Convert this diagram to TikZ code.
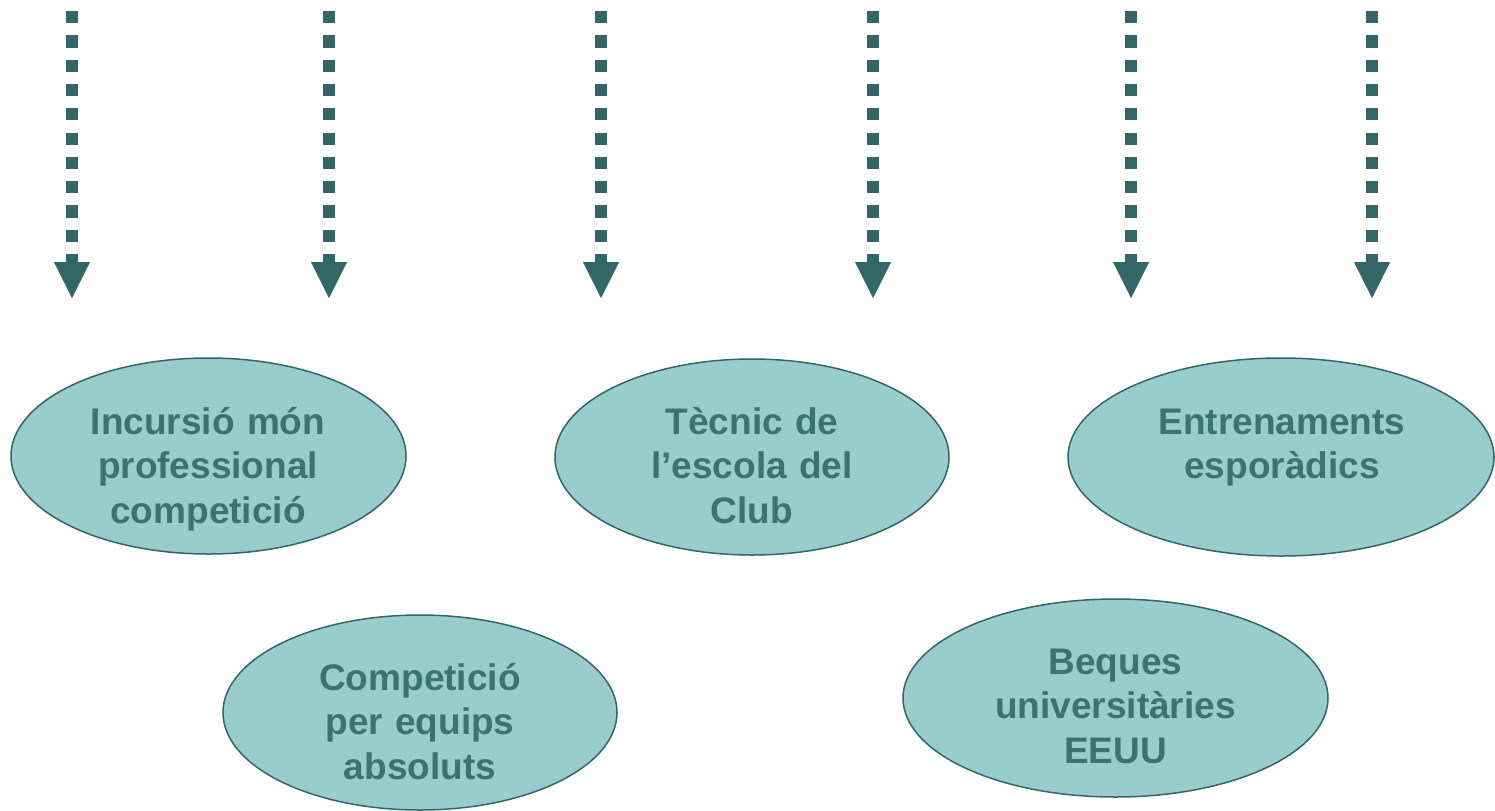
\documentclass[tikz,border=0pt]{standalone}
\usepackage{fontspec}
\setmainfont{Liberation Sans}
\usetikzlibrary{arrows.meta,shapes.geometric}
\definecolor{fillc}{HTML}{99CCCC}
\definecolor{darkc}{HTML}{336666}
\definecolor{txtc}{HTML}{3A7371}
\begin{document}
\begin{tikzpicture}[x=0.5pt,y=-0.5pt,
 oval/.style={ellipse, draw=darkc, line width=0.75pt, fill=fillc, inner sep=0pt, outer sep=0pt},
 lbl/.style={anchor=base, inner sep=0pt, text width=180pt, align=center, text=txtc, font=\fontsize{18.5pt}{22.25pt}\selectfont\bfseries},
 dotarrow/.style={draw=darkc, line width=6pt, dash pattern=on 6.1pt off 6.05pt, -{Triangle[width=18pt,length=18pt,line width=0.01pt]}}
]
\fill[white] (0,0) rectangle (1495,810);
\useasboundingbox (0,0) rectangle (1495,810);

% arrows
\foreach \i/\x in {1/72,2/329,3/601,4/873,5/1131,6/1372}{
  \coordinate (s\i) at (\x,11);
  \coordinate (t\i) at (\x,298);
  \draw[dotarrow] (s\i) -- (t\i);
}

% ellipses
\node[oval, minimum width=197.5pt, minimum height=98pt] (e1) at (208.5,456) {};
\node[oval, minimum width=197pt, minimum height=98pt] (e2) at (752,457) {};
\node[oval, minimum width=213pt, minimum height=99pt] (e3) at (1281,457) {};
\node[oval, minimum width=197pt, minimum height=97.5pt] (e4) at (420,712.5) {};
\node[oval, minimum width=212.5pt, minimum height=99pt] (e5) at (1115.5,698) {};

% labels
\node[lbl] (l1) at (208,434) {Incursió món\\professional\\competició};
\node[lbl] (l2) at (752,434) {Tècnic de\\l’escola del\\Club};
\node[lbl] (l3) at (1282,434) {Entrenaments\\esporàdics};
\node[lbl] (l4) at (420,690) {Competició\\per equips\\absoluts};
\node[lbl] (l5) at (1115.5,674) {Beques\\universitàries\\EEUU};
\end{tikzpicture}
\end{document}
